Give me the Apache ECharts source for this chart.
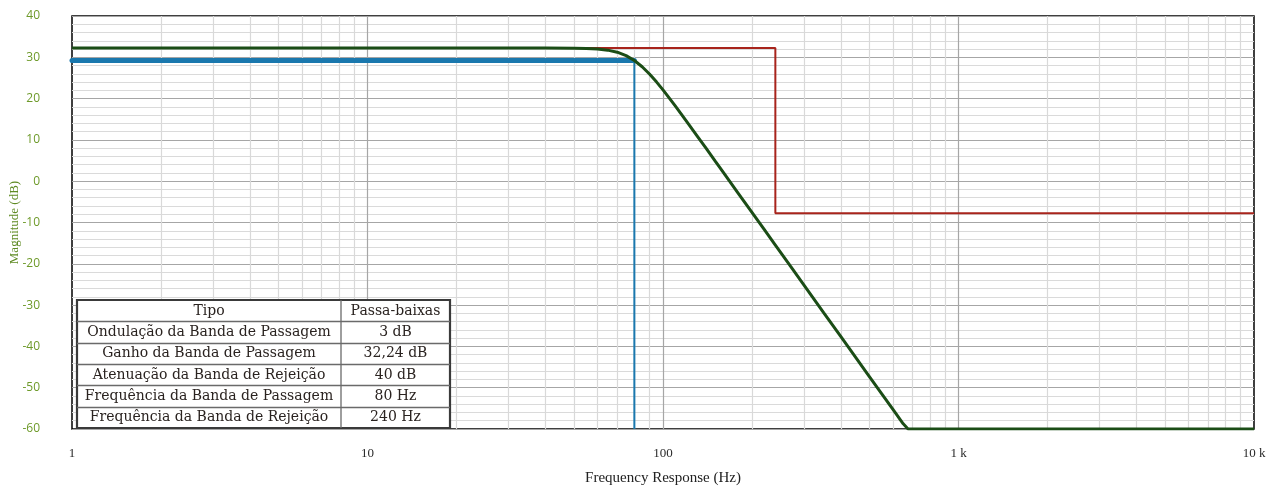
<!DOCTYPE html>
<html>
<head>
<meta charset="utf-8">
<script src="https://cdn.jsdelivr.net/npm/echarts@6/dist/echarts.min.js"></script>
<style>
  html, body { margin: 0; padding: 0; background: #fff; }
  #chart { width: 1279px; height: 488px; }
</style>
</head>
<body>
<div id="chart"></div>
<script>
// Magnitude response of the low-pass filter (frequency in Hz, magnitude in dB)
const responseFreq = [1, 10, 30, 40, 50, 55, 60, 65, 70, 75, 80, 85, 90, 95, 100, 110, 120, 130, 140, 150, 160, 180, 200, 220, 240, 270, 300, 350, 400, 450, 500, 550, 600, 650, 675, 1000, 10000];
const responseDb   = [32.24, 32.24, 32.24, 32.24, 32.2, 32.14, 32.0, 31.73, 31.23, 30.41, 29.23, 27.72, 25.96, 24.06, 22.11, 18.24, 14.55, 11.12, 7.92, 4.93, 2.14, -2.98, -7.55, -11.69, -15.47, -20.59, -25.16, -31.86, -37.66, -42.77, -47.35, -51.49, -55.27, -58.74, -60, -60, -60];

// Specification mask (stop-band template)
const maskFreq = [1, 240, 240, 10000];
const maskDb   = [32.24, 32.24, -7.76, -7.76];

// Pass-band edge: -3 dB level and cut-off frequency
const passLevelFreq = [1, 80];
const passLevelDb   = [29.24, 29.24];
const cutoffFreq = [80, 80];
const cutoffDb   = [29.24, -60];

// Specification table
const tableHeader = ['Tipo', 'Passa-baixas'];
const tableNames  = ['Ondulação da Banda de Passagem', 'Ganho da Banda de Passagem', 'Atenuação da Banda de Rejeição', 'Frequência da Banda de Passagem', 'Frequência da Banda de Rejeição'];
const tableValues = ['3 dB', '32,24 dB', '40 dB', '80 Hz', '240 Hz'];

// Axis settings
const xMin = 1, xMax = 10000;
const yMin = -60, yMax = 40, yStep = 10;

const zip = (a, b) => a.map((v, i) => [v, b[i]]);

// log grid lines: decades darker, 2..9 lighter
const gridLines = [];
for (let d = 1; d < xMax; d *= 10) {
  for (let k = 1; k <= 9; k++) {
    const f = k * d;
    if (f <= xMin || f >= xMax) continue;
    gridLines.push({
      xAxis: f,
      lineStyle: k === 1 ? { color: '#a6a6a6', width: 1.2, type: 'solid' } : { color: '#d9d9d9', width: 1.2, type: 'solid' }
    });
  }
}

const chart = echarts.init(document.getElementById('chart'), null, { renderer: 'canvas' });

// Table overlay geometry
const tX = 77, tY = 300, tW = 373, tH = 128, colX = 341;
const rowH = tH / (tableNames.length + 1);
const tableFont = '14px "DejaVu Serif", serif';
const tableColor = '#2a2320';
const graphics = [];
graphics.push({ type: 'rect', z: 100, shape: { x: tX, y: tY, width: tW, height: tH }, style: { fill: '#fff', stroke: '#3a3a3a', lineWidth: 2.2 } });
for (let r = 1; r <= tableNames.length; r++) {
  const y = Math.round(tY + r * rowH) + 0.5;
  graphics.push({ type: 'line', z: 101, shape: { x1: tX, y1: y, x2: tX + tW, y2: y }, style: { stroke: '#6a6a6a', lineWidth: 1.3 } });
}
graphics.push({ type: 'line', z: 101, shape: { x1: colX, y1: tY, x2: colX, y2: tY + tH }, style: { stroke: '#6a6a6a', lineWidth: 1.3 } });
const allRows = [tableHeader].concat(tableNames.map((n, i) => [n, tableValues[i]]));
allRows.forEach((row, r) => {
  const cy = tY + (r + 0.5) * rowH + 0.5;
  graphics.push({ type: 'text', z: 102, x: (tX + colX) / 2, y: cy, style: { text: row[0], font: tableFont, fill: tableColor, align: 'center', verticalAlign: 'middle' } });
  graphics.push({ type: 'text', z: 102, x: (colX + tX + tW) / 2, y: cy, style: { text: row[1], font: tableFont, fill: tableColor, align: 'center', verticalAlign: 'middle' } });
});

const option = {
  backgroundColor: '#fff',
  animation: false,
  grid: {
    left: 72, right: 25, top: 16, bottom: 59,
    containLabel: false, outerBoundsMode: 'none',
    show: true, borderColor: '#000', borderWidth: 1.5, backgroundColor: '#fff'
  },
  xAxis: {
    type: 'log', logBase: 10, min: xMin, max: xMax,
    name: 'Frequency Response (Hz)', nameLocation: 'middle', nameGap: 42,
    nameTextStyle: { fontFamily: 'Liberation Serif', fontSize: 15, color: '#222' },
    axisLine: { show: false }, axisTick: { show: false },
    splitLine: { show: false },
    axisLabel: {
      margin: 18, fontFamily: 'Liberation Serif', fontSize: 13, color: '#2a2a2a',
      formatter: v => v >= 1000 ? (v / 1000) + ' k' : String(v)
    }
  },
  yAxis: {
    type: 'value', min: yMin, max: yMax, interval: yStep,
    name: 'Magnitude (dB)', nameLocation: 'middle', nameGap: 51, nameMoveOverlap: false,
    nameTextStyle: { fontFamily: 'Liberation Serif', fontSize: 13, color: '#5e8a22' },
    axisLine: { show: false }, axisTick: { show: false },
    axisLabel: { margin: 32, fontFamily: '"Open Sans", sans-serif', fontSize: 12, color: '#6e9a2a', align: 'right' },
    splitLine: { show: true, lineStyle: { color: '#a6a6a6', width: 1.2 } },
    minorTick: { show: false, splitNumber: 5 },
    minorSplitLine: { show: true, lineStyle: { color: '#dadada', width: 1.2 } }
  },
  graphic: graphics,
  series: [
    {
      name: 'grid', type: 'line', z: 1, silent: true, data: [[xMin, yMin]], showSymbol: false,
      lineStyle: { width: 0 },
      markLine: { z: 1, silent: true, symbol: 'none', label: { show: false }, animation: false, data: gridLines }
    },
    {
      name: 'mask', type: 'line', z: 3, data: zip(maskFreq, maskDb), showSymbol: false,
      lineStyle: { color: '#a8241c', width: 2 }
    },
    {
      name: 'passLevel', type: 'line', z: 4, data: zip(passLevelFreq, passLevelDb), showSymbol: false,
      lineStyle: { color: '#1a78ae', width: 5, cap: 'round' }
    },
    {
      name: 'cutoff', type: 'line', z: 4, data: zip(cutoffFreq, cutoffDb), showSymbol: false,
      lineStyle: { color: '#1a78ae', width: 2 }
    },
    {
      name: 'response', type: 'line', z: 5, data: zip(responseFreq, responseDb), showSymbol: false,
      lineStyle: { color: '#1b4d16', width: 3 }
    }
  ]
};
chart.setOption(option);
</script>
</body>
</html>
